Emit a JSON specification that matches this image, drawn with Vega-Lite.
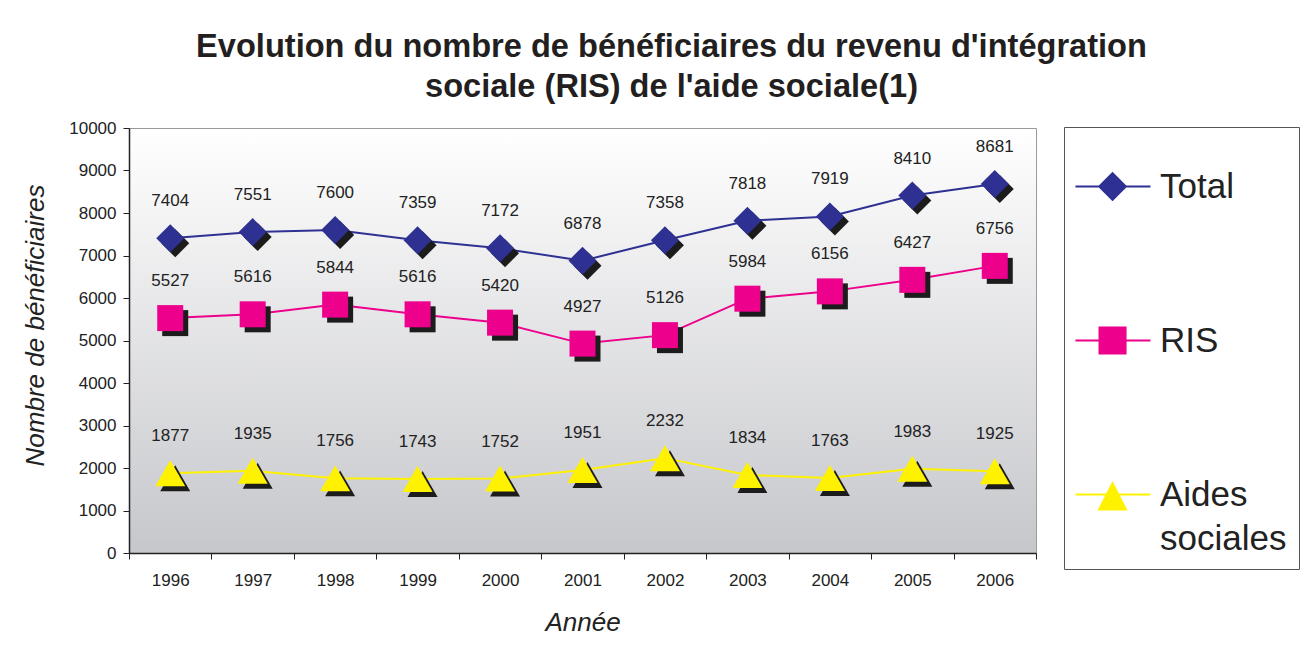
{
  "$schema": "https://vega.github.io/schema/vega-lite/v6.json",
  "width": 907,
  "height": 425,
  "autosize": {"type": "none"},
  "padding": {"left": 129, "top": 128, "right": 275, "bottom": 98},
  "background": "white",
  "config": {
    "font": "Liberation Sans",
    "view": {
      "stroke": "#9a9a9a",
      "strokeWidth": 1,
      "fill": {"gradient": "linear", "x1": 0, "y1": 0, "x2": 0, "y2": 1,
        "stops": [{"offset": 0, "color": "#ffffff"}, {"offset": 1, "color": "#c6c7cb"}]}
    }
  },
  "title": {
    "text": ["Evolution du nombre de bénéficiaires du revenu d'intégration", "sociale (RIS) de l'aide sociale(1)"],
    "fontSize": 32.6,
    "fontWeight": "bold",
    "color": "#231f20",
    "anchor": "middle",
    "dx": 89,
    "offset": 15,
    "lineHeight": 40
  },
  "data": {
    "values": [
      {"annee": "1996", "serie": "Total", "valeur": 7404},
      {"annee": "1997", "serie": "Total", "valeur": 7551},
      {"annee": "1998", "serie": "Total", "valeur": 7600},
      {"annee": "1999", "serie": "Total", "valeur": 7359},
      {"annee": "2000", "serie": "Total", "valeur": 7172},
      {"annee": "2001", "serie": "Total", "valeur": 6878},
      {"annee": "2002", "serie": "Total", "valeur": 7358},
      {"annee": "2003", "serie": "Total", "valeur": 7818},
      {"annee": "2004", "serie": "Total", "valeur": 7919},
      {"annee": "2005", "serie": "Total", "valeur": 8410},
      {"annee": "2006", "serie": "Total", "valeur": 8681},
      {"annee": "1996", "serie": "RIS", "valeur": 5527},
      {"annee": "1997", "serie": "RIS", "valeur": 5616},
      {"annee": "1998", "serie": "RIS", "valeur": 5844},
      {"annee": "1999", "serie": "RIS", "valeur": 5616},
      {"annee": "2000", "serie": "RIS", "valeur": 5420},
      {"annee": "2001", "serie": "RIS", "valeur": 4927},
      {"annee": "2002", "serie": "RIS", "valeur": 5126},
      {"annee": "2003", "serie": "RIS", "valeur": 5984},
      {"annee": "2004", "serie": "RIS", "valeur": 6156},
      {"annee": "2005", "serie": "RIS", "valeur": 6427},
      {"annee": "2006", "serie": "RIS", "valeur": 6756},
      {"annee": "1996", "serie": "Aides sociales", "valeur": 1877},
      {"annee": "1997", "serie": "Aides sociales", "valeur": 1935},
      {"annee": "1998", "serie": "Aides sociales", "valeur": 1756},
      {"annee": "1999", "serie": "Aides sociales", "valeur": 1743},
      {"annee": "2000", "serie": "Aides sociales", "valeur": 1752},
      {"annee": "2001", "serie": "Aides sociales", "valeur": 1951},
      {"annee": "2002", "serie": "Aides sociales", "valeur": 2232},
      {"annee": "2003", "serie": "Aides sociales", "valeur": 1834},
      {"annee": "2004", "serie": "Aides sociales", "valeur": 1763},
      {"annee": "2005", "serie": "Aides sociales", "valeur": 1983},
      {"annee": "2006", "serie": "Aides sociales", "valeur": 1925}
    ]
  },
  "encoding": {
    "x": {
      "field": "annee", "type": "ordinal",
      "scale": {"type": "band", "paddingInner": 0, "paddingOuter": 0},
      "axis": {
        "title": "Année", "labelAngle": 0, "tickBand": "extent",
        "labelFontSize": 17, "labelColor": "#222222", "labelPadding": 13,
        "tickSize": 6, "tickColor": "#222222", "domainColor": "#222222", "domainWidth": 1.5,
        "titleFontSize": 26, "titleFontStyle": "italic", "titleFontWeight": "normal",
        "titleColor": "#222222", "titlePadding": 21, "grid": false
      }
    },
    "y": {
      "field": "valeur", "type": "quantitative",
      "scale": {"domain": [0, 10000], "nice": false},
      "axis": {
        "title": "Nombre de bénéficiaires", "values": [0,1000,2000,3000,4000,5000,6000,7000,8000,9000,10000],
        "format": "d", "labelFontSize": 17, "labelColor": "#222222", "labelPadding": 7,
        "tickSize": 6, "tickColor": "#222222", "domainColor": "#222222", "domainWidth": 1.5,
        "titleFontSize": 26, "titleFontStyle": "italic", "titleFontWeight": "normal",
        "titleColor": "#222222", "titlePadding": 20, "titleY": 197, "grid": false
      }
    },
    "color": {
      "field": "serie", "type": "nominal",
      "scale": {"domain": ["Total", "RIS", "Aides sociales"], "range": ["#2e3192", "#ec008c", "#fff200"]},
      "legend": {
        "orient": "none", "legendX": 935, "legendY": -1,
        "title": " ", "titleFontSize": 10, "titlePadding": 20,
        "padding": 12, "strokeColor": "#555555", "fillColor": "#ffffff",
        "symbolSize": 784, "labelOffset": 49, "rowPadding": 118,
        "labelFontSize": 35, "labelColor": "#222222", "labelLimit": 400,
        "labelExpr": "datum.label == 'Aides sociales' ? ['Aides', 'sociales'] : datum.label",
        "encode": {
          "symbols": {"update": {
            "shape": {"signal": "datum.value == 'Total' ? 'M-1.29,0H4.07M1.36,-0.95L2.31,0L1.36,0.95L0.41,0Z' : datum.value == 'RIS' ? 'M-1.29,0H4.07M0.43,-0.93H2.29V0.93H0.43Z' : 'M-1.29,0H4.07M1.36,-0.8L2.32,1.07L0.4,1.07Z'"},
            "stroke": {"signal": "datum.value == 'Total' ? '#2e3192' : datum.value == 'RIS' ? '#ec008c' : '#fff200'"},
            "fill": {"signal": "datum.value == 'Total' ? '#2e3192' : datum.value == 'RIS' ? '#ec008c' : '#fff200'"},
            "strokeWidth": {"value": 2},
            "size": {"value": 784},
            "opacity": {"value": 1}
          }},
          "labels": {"update": {
            "lineHeight": {"value": 44}
          }}
        }
      }
    }
  },
  "layer": [
    {"mark": {"type": "line", "strokeWidth": 2}},
    {
      "mark": {
        "type": "point", "filled": true, "opacity": 1, "xOffset": 5, "yOffset": 5, "color": "#1c1c1c",
        "shape": {"expr": "datum.serie == 'Total' ? 'diamond' : datum.serie == 'RIS' ? 'square' : 'triangle-up'"},
        "size": {"expr": "datum.serie == 'Total' ? 784 : datum.serie == 'RIS' ? 676 : 900"}
      },
      "encoding": {"color": {"value": "#1c1c1c"}}
    },
    {
      "mark": {
        "type": "point", "filled": true, "opacity": 1,
        "shape": {"expr": "datum.serie == 'Total' ? 'diamond' : datum.serie == 'RIS' ? 'square' : 'triangle-up'"},
        "size": {"expr": "datum.serie == 'Total' ? 784 : datum.serie == 'RIS' ? 676 : 900"}
      }
    },
    {
      "mark": {"type": "text", "dy": -37, "fontSize": 17},
      "encoding": {
        "text": {"field": "valeur", "type": "quantitative", "format": "d"},
        "color": {"value": "#222222"}
      }
    }
  ]
}
